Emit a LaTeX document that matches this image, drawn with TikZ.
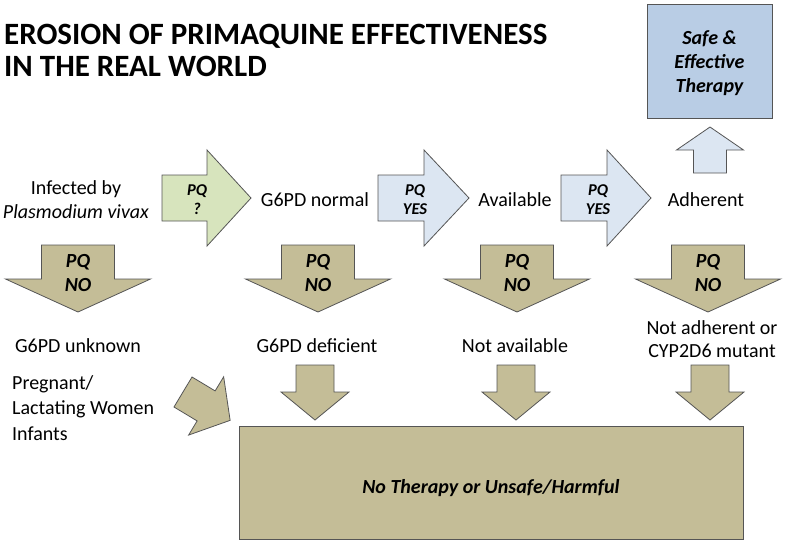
\documentclass[tikz,border=0pt]{standalone}
\usepackage{fontspec}
\setmainfont{Carlito}
\usetikzlibrary{positioning}
\definecolor{mytan}{RGB}{196,189,151}
\definecolor{mygreen}{RGB}{215,228,189}
\definecolor{mypaleblue}{RGB}{220,230,242}
\definecolor{myblue}{RGB}{185,205,229}
\definecolor{myedge}{RGB}{85,85,85}
\newcommand{\bodysize}{\fontsize{20}{24}\selectfont}
\newcommand{\pqsize}{\fontsize{16.5}{19}\selectfont}
\newcommand{\titlesize}{\fontsize{31}{32}\selectfont}
% #1 fill, #2 tail, #3 angle, #4 shaft width, #5 head width, #6 shaft length, #7 head length
\newcommand{\fatarrow}[7]{%
    \begin{scope}[shift={#2}, rotate=#3]
        \draw[arrowline, fill=#1] (0,-#4/2) -- (#6,-#4/2) -- (#6,-#5/2) -- (#6+#7,0)
            -- (#6,#5/2) -- (#6,#4/2) -- (0,#4/2) -- cycle;
    \end{scope}}
\tikzset{
    arrowline/.style={draw=myedge, line width=0.8pt, line join=miter},
    plain/.style={font=\bodysize, inner sep=0pt, align=center},
    pq/.style={font=\pqsize\bfseries\itshape, inner sep=0pt, align=center},
    pqno/.style={font=\bodysize\bfseries\itshape, inner sep=0pt, align=center},
    outcome/.style={draw=myedge, line width=0.8pt, rectangle, inner sep=0pt}
}

\begin{document}
\begin{tikzpicture}[x=1pt, y=-1pt]
    \useasboundingbox (0,0) rectangle (786,547);

    % title
    \node[font=\titlesize\bfseries, inner sep=0pt, anchor=base west] (title) at (4,44) {EROSION OF PRIMAQUINE EFFECTIVENESS};
    \node[font=\titlesize\bfseries, inner sep=0pt, anchor=base west] (title2) at (4,76) {IN THE REAL WORLD};

    % good outcome
    \node[outcome, fill=myblue, minimum width=125pt, minimum height=114pt] (safe) at (709.5,61) {};
    \node[pqno] (safetext) at (709.5,63) {Safe \&\\Effective\\Therapy};

    % first row
    \node[plain] (infected) at (76,200) {Infected by\\\textit{Plasmodium vivax}};
    \node[plain, anchor=base] (normal) at (315,206) {G6PD normal};
    \node[plain, anchor=base] (available) at (515,206) {Available};
    \node[plain, anchor=base] (adherent) at (706,206) {Adherent};

    \fatarrow{mygreen}{(162,198)}{0}{46}{96}{45}{44}
    \fatarrow{mypaleblue}{(378,198)}{0}{46}{96}{46}{45}
    \fatarrow{mypaleblue}{(561,198)}{0}{46}{96}{46}{44}
    \fatarrow{mypaleblue}{(710,173)}{90}{33}{67}{23}{23}
    \node[pq] (pq1) at (197,200) {PQ\\?};
    \node[pq] (pq2) at (415,200) {PQ\\YES};
    \node[pq] (pq3) at (598,200) {PQ\\YES};

    % PQ NO arrows
    \foreach \cx/\nm in {78/no1, 318/no2, 517/no3, 708/no4} {
        \fatarrow{mytan}{(\cx,245)}{-90}{73}{145}{34}{33}
        \node[pqno] (\nm) at (\cx,273) {PQ\\NO};
    }

    % second row
    \node[plain, anchor=base] (unknown) at (78,352) {G6PD unknown};
    \node[plain, anchor=base] (deficient) at (317,352) {G6PD deficient};
    \node[plain, anchor=base] (notavail) at (515,352) {Not available};
    \node[plain, anchor=base] (notadh) at (712,334) {Not adherent or};
    \node[plain, anchor=base] (mutant) at (712,357) {CYP2D6 mutant};
    \node[plain, anchor=base west] (pregnant) at (12,389) {Pregnant/};
    \node[plain, anchor=base west] (lactating) at (12,414.5) {Lactating Women};
    \node[plain, anchor=base west] (infants) at (12,440) {Infants};

    % small arrows into the box
    \foreach \cx in {315, 516, 710} {
        \fatarrow{mytan}{(\cx,365)}{-90}{38}{68}{27}{28}
    }
    \fatarrow{mytan}{(183,392)}{-31}{35}{68}{27}{28}

    % bad outcome
    \node[outcome, fill=mytan, minimum width=504pt, minimum height=113pt] (harm) at (491,482.5) {};
    \node[pqno, anchor=base] (harmtext) at (491,493) {No Therapy or Unsafe/Harmful};
\end{tikzpicture}
\end{document}
